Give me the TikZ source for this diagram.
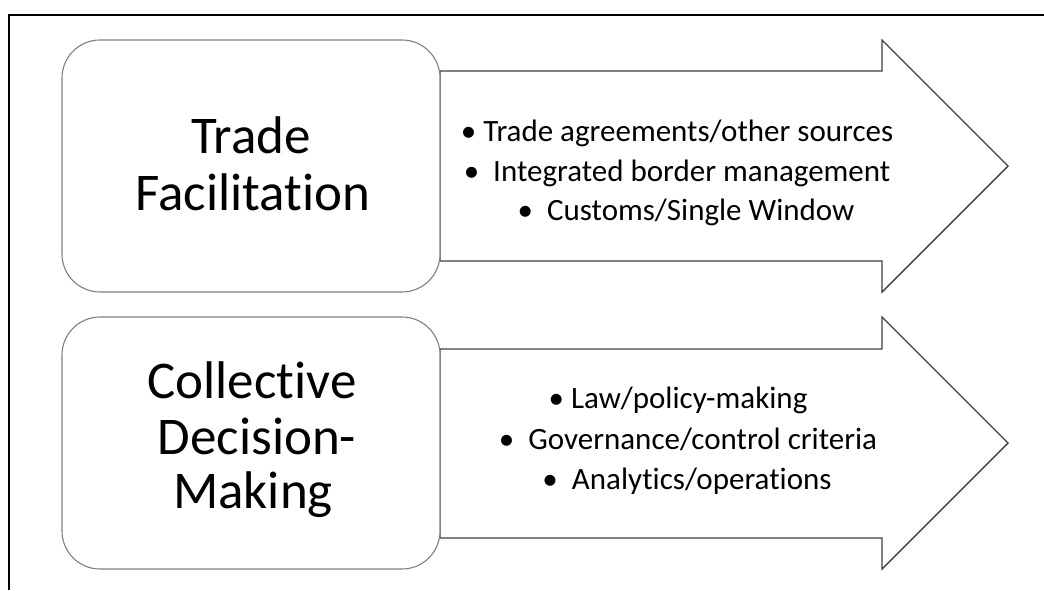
\documentclass[tikz,border=0pt]{standalone}
\usepackage{fontspec}
\setmainfont{Carlito}[Ligatures=NoCommon]
\begin{document}
\begin{tikzpicture}[x=1pt,y=-1pt,
  box/.style={draw={rgb,255:red,128;green,128;blue,128}, line width=1.1pt, fill=white,
    rounded corners=38pt, minimum width=378pt, minimum height=252pt, inner sep=0pt},
  title/.style={anchor=base, inner sep=0pt, font=\fontsize{53}{55}\selectfont},
  arrowshape/.style={draw={rgb,255:red,64;green,64;blue,64}, line width=1.4pt,
    fill=white, line join=miter},
  item/.style={anchor=base, inner sep=0pt, font=\fontsize{31}{39}\selectfont},
  frame/.style={line width=2pt, black}]
\useasboundingbox (0,0) rectangle (1044,590);

% outer frame edges
\draw[frame] (9,590) -- (9,15) -- (1044,15);

% block arrows behind the rounded boxes
\draw[arrowshape] (440,71) -- (882,71) -- (882,40) -- (1008,166)
  -- (882,292) -- (882,261) -- (440,261) -- cycle;
\draw[arrowshape] (440,349) -- (882,349) -- (882,317) -- (1008,443)
  -- (882,569) -- (882,538) -- (440,538) -- cycle;

% rounded boxes
\node[box] (tf) at (251,166) {};
\node[box] (cdm) at (251,443) {};

% box titles
\node[title] (tf1) at (251,153) {Trade};
\node[title] (tf2) at (253,210) {Facilitation};
\node[title] (cdm1) at (252,398) {Collective};
\node[title] (cdm2) at (257,454) {Decision-};
\node[title] (cdm3) at (253,508) {Making};

% arrow contents
\node[item] (tfa) at (677,141) {• Trade agreements/other sources};
\node[item] (tfb) at (677,181) {•\ \ Integrated border management};
\node[item] (tfc) at (686,220) {•\ \ Customs/Single Window};
\node[item] (cdma) at (678,408) {• Law/policy-making};
\node[item] (cdmb) at (688,449) {•\ \ Governance/control criteria};
\node[item] (cdmc) at (687,489) {•\ \ Analytics/operations};
\end{tikzpicture}
\end{document}
